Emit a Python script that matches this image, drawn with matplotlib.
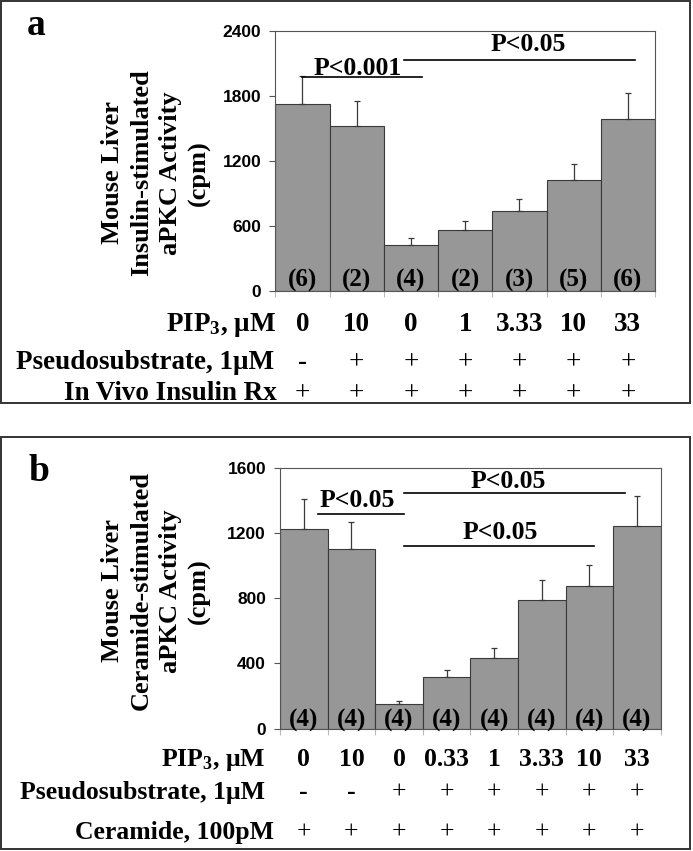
import numpy as np
import matplotlib
matplotlib.use("Agg")
import matplotlib.pyplot as plt
from matplotlib.patches import Rectangle
from matplotlib.transforms import blended_transform_factory

plt.rcParams['mathtext.fontset'] = 'custom'
plt.rcParams['mathtext.rm'] = 'Liberation Serif:bold'
plt.rcParams['mathtext.it'] = 'Liberation Serif:bold'
plt.rcParams['mathtext.bf'] = 'Liberation Serif:bold'

# ---- panel a data ----
a_vals = [1720, 1520, 422, 562, 736, 1020, 1588]
a_err = [258, 232, 64, 84, 110, 150, 234]
a_n = ['(6)', '(2)', '(4)', '(2)', '(3)', '(5)', '(6)']
a_pip3 = ['0', '10', '0', '1', '3.33', '10', '33']
a_pseudo = ['-', '+', '+', '+', '+', '+', '+']
a_insulin = ['+', '+', '+', '+', '+', '+', '+']
a_rows = [r'PIP$_3$, μM', 'Pseudosubstrate, 1μM', 'In Vivo Insulin Rx']
a_ylabel = 'Mouse Liver\nInsulin-stimulated\naPKC Activity\n(cpm)'
# significance bars: (x0, x1, y_line, x_text, y_text, label)
a_sig = [(0.0, 2.2, 1976, 1.02, 1995, 'P<0.001'),
         (1.87, 6.13, 2130, 4.16, 2216, 'P<0.05')]

# ---- panel b data ----
b_vals = [1227, 1100, 151, 315, 431, 792, 874, 1241]
b_err = [184, 168, 21, 44, 61, 117, 128, 184]
b_n = ['(4)'] * 8
b_pip3 = ['0', '10', '0', '0.33', '1', '3.33', '10', '33']
b_pseudo = ['-', '-', '+', '+', '+', '+', '+', '+']
b_ceramide = ['+'] * 8
b_rows = [r'PIP$_3$, μM', 'Pseudosubstrate, 1μM', 'Ceramide, 100pM']
b_ylabel = 'Mouse Liver\nCeramide-stimulated\naPKC Activity\n(cpm)'
b_sig = [(0.30, 2.11, 1314, 1.12, 1358, 'P<0.05'),
         (2.11, 6.75, 1445, 4.29, 1476, 'P<0.05'),
         (2.11, 6.10, 1121, 4.12, 1160, 'P<0.05')]

W, H = 693, 851
fig = plt.figure(figsize=(W / 100, H / 100), dpi=100)

SERIF = 'Liberation Serif'
SANS = 'Liberation Sans'


def fy(y):
    return 1 - y / H


def panel(box, ax_px, vals, err, counts, ymax, step, rows, row_vals,
          row_y, row_right, row_fs, ylabel, ylab_xy, letter, letter_xy, sig,
          n_base):
    # outer frame
    x0, y0, x1, y1 = box
    fig.patches.append(Rectangle((x0 / W, fy(y1)), (x1 - x0) / W, (y1 - y0) / H,
                                 transform=fig.transFigure, fill=False,
                                 edgecolor='#333333', lw=1.4))
    l, r, t, b = ax_px
    ax = fig.add_axes([l / W, fy(b), (r - l) / W, (b - t) / H])
    n = len(vals)
    x = np.arange(n)
    ax.bar(x, vals, width=1.0, color='#979797', edgecolor='#3a3a3a', lw=0.8,
           zorder=2)
    ax.errorbar(x, vals, yerr=[np.zeros(n), err], fmt='none', ecolor='#3a3a3a',
                elinewidth=0.9, capsize=2.5, capthick=0.9, zorder=3)
    ax.set_xlim(-0.5, n - 0.5)
    ax.set_ylim(0, ymax)
    ax.set_yticks(np.arange(0, ymax + 1, step))
    ax.set_xticks([])
    ax.set_xticks(np.arange(n + 1) - 0.5, minor=True)
    ax.tick_params(axis='x', which='minor', length=4, color='#bbbbbb', width=0.8)
    ax.tick_params(axis='y', length=4, color='#555555', width=0.8, pad=6)
    for lab in ax.get_yticklabels():
        lab.set_fontfamily(SANS)
        lab.set_fontweight('bold')
        lab.set_fontsize(12.5)
    for s in ax.spines.values():
        s.set_color('#555555')
        s.set_linewidth(0.8)

    for xi, c in zip(x, counts):
        ax.text(xi, n_base, c, ha='center', va='baseline', fontsize=18,
                fontfamily=SERIF, fontweight='bold', zorder=4)

    for (sx0, sx1, sy, tx, ty, lab) in sig:
        ax.plot([sx0, sx1], [sy, sy], color='black', lw=1.2, clip_on=False,
                zorder=4)
        ax.text(tx, ty, lab, ha='center', va='baseline', fontsize=18.5,
                fontfamily=SERIF, fontweight='bold', zorder=5)

    tr = blended_transform_factory(ax.transData, fig.transFigure)
    for label, vals_r, yy, rx in zip(rows, row_vals, row_y, row_right):
        fig.text(rx / W, fy(yy), label, ha='right', va='baseline',
                 fontsize=row_fs, fontfamily=SERIF, fontweight='bold')
        for xi, v in zip(x, vals_r):
            weight = 'bold' if v != '+' else 'normal'
            ax.text(xi, fy(yy), v, transform=tr, ha='center', va='baseline',
                    fontsize=row_fs, fontfamily=SERIF, fontweight=weight,
                    clip_on=False)

    fig.text(ylab_xy[0] / W, fy(ylab_xy[1]), ylabel, rotation=90, ha='center',
             va='center', multialignment='center', linespacing=1.32,
             fontsize=19, fontfamily=SERIF, fontweight='bold')
    fig.text(letter_xy[0] / W, fy(letter_xy[1]), letter, ha='left',
             va='baseline', fontsize=27, fontfamily=SERIF, fontweight='bold')
    return ax


panel((1, 1, 690, 403), (275.3, 655, 30.7, 291), a_vals, a_err, a_n, 2400, 600,
      a_rows, [a_pip3, a_pseudo, a_insulin], [331, 369, 400], [276, 274, 277],
      19.5, a_ylabel, (156, 173), 'a', (27, 35), a_sig, 38)

panel((1, 437, 690, 849), (280, 660.7, 467.7, 728.7), b_vals, b_err, b_n, 1600, 400,
      b_rows, [b_pip3, b_pseudo, b_ceramide], [766, 799, 839], [265, 265, 274],
      18.5, b_ylabel, (156, 591), 'b', (28, 481), b_sig, 14)

fig.savefig('out.png', dpi=100)
